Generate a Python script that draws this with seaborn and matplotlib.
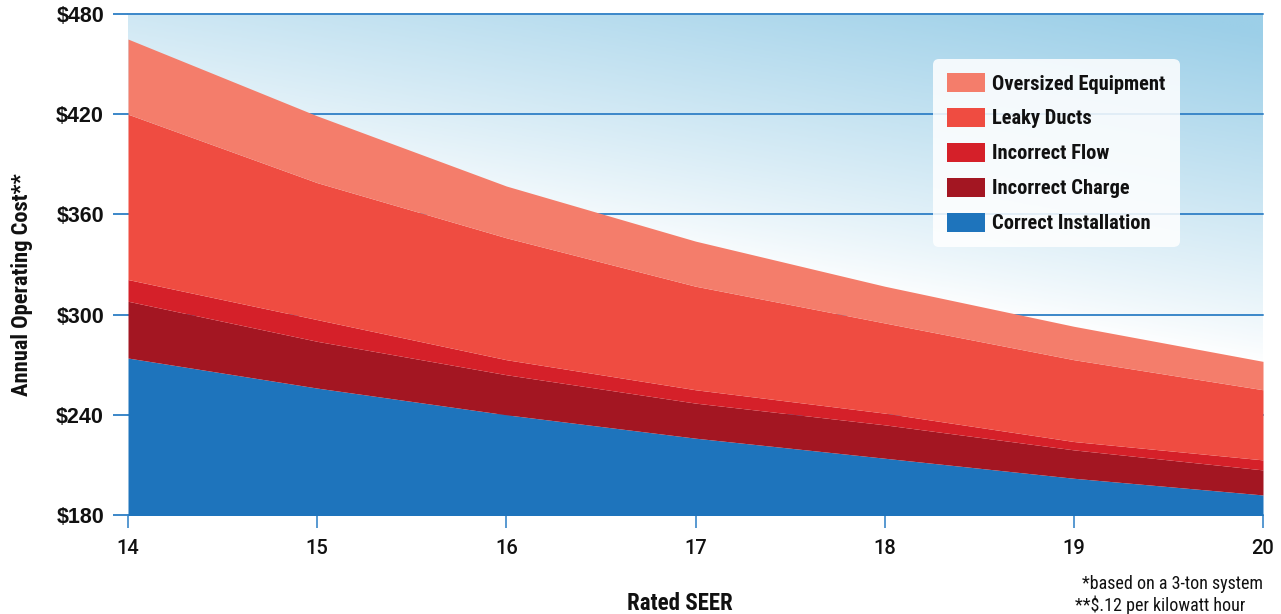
import numpy as np
import matplotlib
matplotlib.use("Agg")
import matplotlib.pyplot as plt
from matplotlib.colors import LinearSegmentedColormap
import seaborn as sns

# ---- data ----
seer = [14, 15, 16, 17, 18, 19, 20]
series_names = ["Correct Installation", "Incorrect Charge", "Incorrect Flow",
                "Leaky Ducts", "Oversized Equipment"]
correct_installation = [274, 256, 240, 226, 214, 202, 192]
incorrect_charge = [34, 28, 24, 21, 20, 17, 15]
incorrect_flow = [13, 13, 9, 8, 7, 5, 6]
leaky_ducts = [99, 82, 73, 62, 54, 49, 42]
oversized_equipment = [45, 40, 31, 27, 22, 20, 17]
y_ticks = [180, 240, 300, 360, 420, 480]
y_tick_labels = ["$180", "$240", "$300", "$360", "$420", "$480"]
x_tick_labels = ["14", "15", "16", "17", "18", "19", "20"]

colors = ["#1e74bc", "#a31622", "#d52029", "#ef4c41", "#f47d6b"]
grid_blue = "#3b87c9"

sns.set_theme(style="white")
plt.rcParams["font.family"] = ["Liberation Sans", "DejaVu Sans"]
narrow = ["Roboto Condensed", "Barlow Condensed", "IBM Plex Sans Condensed",
          "DejaVu Sans"]

W, H = 1281, 614
fig = plt.figure(figsize=(W / 100, H / 100), dpi=100)
fig.patch.set_facecolor("white")
ax = fig.add_axes([128 / W, 1 - 515 / H, (1263 - 128) / W, (515 - 14) / H])
ax.set_facecolor("white")

# background gradient (white lower-left -> light blue upper-right)
nx, ny = 400, 300
xs = np.linspace(0, 1, nx)
ys = np.linspace(0, 1, ny)
XX, YY = np.meshgrid(xs, ys)
T = np.clip(0.6 * XX + 1.5 * YY - 1.05, 0, 1) ** 0.9
cmap = LinearSegmentedColormap.from_list("bg", ["#ffffff", "#9ccfe8"])
ax.imshow(T, cmap=cmap, vmin=0, vmax=1, origin="lower", aspect="auto",
          extent=[seer[0], seer[-1], y_ticks[0], y_ticks[-1]], zorder=0,
          interpolation="bilinear")

stack = [correct_installation, incorrect_charge, incorrect_flow,
         leaky_ducts, oversized_equipment]
polys = ax.stackplot(seer, *stack, colors=colors, labels=series_names,
                     linewidth=0, zorder=2)

ax.set_xlim(seer[0], seer[-1])
ax.set_ylim(y_ticks[0], y_ticks[-1])
ax.set_yticks(y_ticks)
ax.set_yticklabels(y_tick_labels)
ax.set_xticks(seer)
ax.set_xticklabels(x_tick_labels)

ax.set_axisbelow(True)
ax.yaxis.grid(True, color=grid_blue, linewidth=1.4, zorder=1)
ax.xaxis.grid(False)
for gl in ax.get_ygridlines():
    gl.set_clip_on(False)
    gl.set_zorder(1)

for s in ax.spines.values():
    s.set_visible(False)

ax.tick_params(axis="y", direction="out", length=10.8, width=1.4,
               color=grid_blue, pad=6.5, labelsize=15.5, left=True)
ax.tick_params(axis="x", direction="out", length=9.4, width=1.2,
               color=grid_blue, pad=8, labelsize=14.5, bottom=True)
for lab in ax.get_yticklabels():
    lab.set_fontweight("bold")
    lab.set_color("#111111")
for lab in ax.get_xticklabels():
    lab.set_family(["Roboto", "DejaVu Sans"])
    lab.set_fontweight("medium")
    lab.set_color("#111111")

# legend
handles = list(polys)[::-1]
labels = series_names[::-1]
leg = ax.legend(handles, labels, loc="upper left",
                bbox_to_anchor=(933 / W, 1 - 59 / H), bbox_transform=fig.transFigure,
                prop={"family": narrow, "weight": "bold", "size": 14.8},
                handlelength=1.85, handleheight=1.05, handletextpad=0.35,
                labelspacing=0.7, borderpad=0.68, borderaxespad=0,
                frameon=True, fancybox=True, framealpha=0.85,
                facecolor="white", edgecolor="none")
leg.get_frame().set_boxstyle("round", pad=0, rounding_size=0.3)
for t in leg.get_texts():
    t.set_color("#111111")

# axis labels & notes
fig.text(22 / W, 1 - 285 / H, "Annual Operating Cost**", rotation=90,
         ha="center", va="center", family=narrow, weight="bold",
         size=16.2, color="#111111")
fig.text(680 / W, 1 - 604 / H, "Rated SEER", ha="center", va="center",
         family=narrow, weight="bold", size=16.5, color="#111111")
fig.text(1263 / W, 1 - 584 / H, "*based on a 3-ton system", ha="right",
         va="center", family=narrow, size=13, color="#111111")
fig.text(1075 / W, 3 / H, "**$.12 per kilowatt hour", ha="left",
         va="baseline", family=narrow, size=13, color="#111111")

fig.savefig("out.png", dpi=100, facecolor="white")
